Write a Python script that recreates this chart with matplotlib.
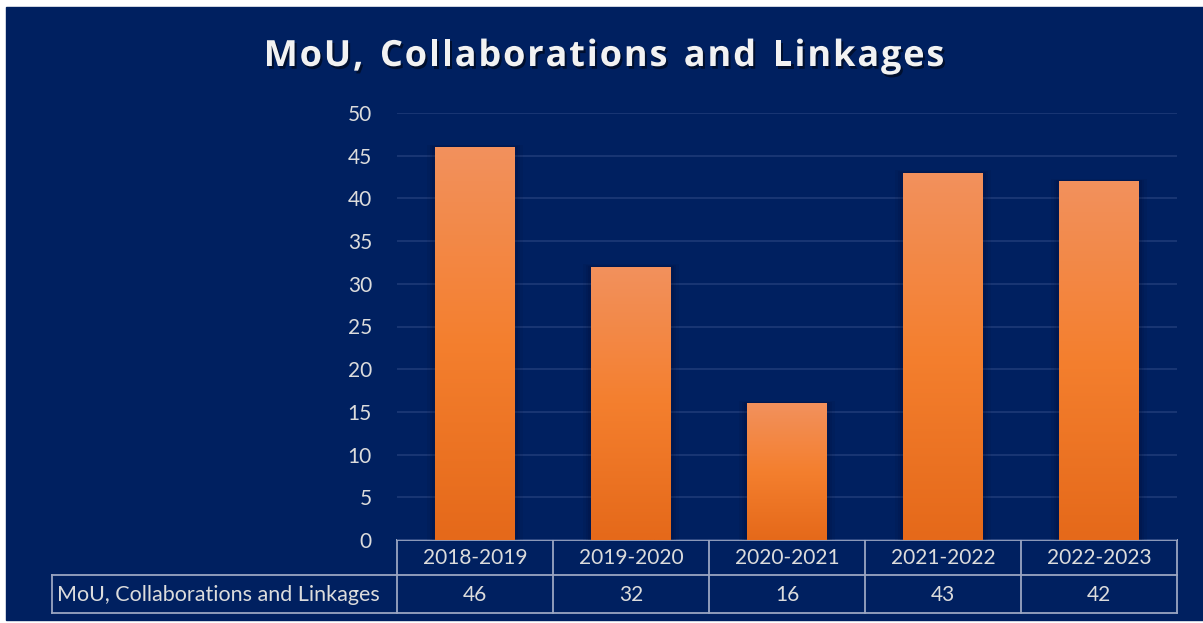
import numpy as np
import matplotlib.pyplot as plt
import matplotlib.patheffects as pe
from matplotlib.colors import LinearSegmentedColormap

# data
years = ["2018-2019", "2019-2020", "2020-2021", "2021-2022", "2022-2023"]
counts = [46, 32, 16, 43, 42]
series_name = "MoU, Collaborations and Linkages"
title = "MoU, Collaborations and Linkages"

W, H = 1203, 623
navy = "#002060"
txt = "#DCDCDC"
line_c = "#9AA6C2"
fs = 15

fig = plt.figure(figsize=(W / 100, H / 100), dpi=100, facecolor="white")

# background panel (white margin on the left and top)
bg = fig.add_axes([0, 0, 1, 1])
bg.set_xlim(0, W)
bg.set_ylim(H, 0)
bg.axis("off")
bg.add_patch(plt.Rectangle((6, 7), W - 6, 613, color=navy, zorder=0))

# main plot area in pixels
x0, x1 = 397, 1177
y_top, y_bot = 113, 540
ax = fig.add_axes([x0 / W, (H - y_bot) / H, (x1 - x0) / W, (y_bot - y_top) / H])
ax.set_facecolor("none")
ax.set_xlim(-0.5, len(years) - 0.5)
ax.set_ylim(0, 50)
ax.set_yticks(np.arange(0, 51, 5))
ax.set_xticks([])
for s in ax.spines.values():
    s.set_visible(False)
ax.tick_params(axis="y", length=0, pad=18, labelsize=fs, labelcolor=txt)
for lab in ax.get_yticklabels():
    lab.set_family("Lato")
ax.grid(axis="y", color="#1D3A78", lw=1.2)
ax.set_axisbelow(True)

cmap = LinearSegmentedColormap.from_list("bar", ["#E5691A", "#F47F2E", "#F2915D"])
grad = np.linspace(0, 1, 256).reshape(-1, 1)
bars = ax.bar(range(len(years)), counts, width=0.51, color="none", zorder=3)
for b in bars:
    bx, by, bw, bh = b.get_x(), b.get_y(), b.get_width(), b.get_height()
    # soft shadow
    for k, a in zip([0.05, 0.035, 0.02], [0.08, 0.1, 0.12]):
        ax.add_patch(plt.Rectangle((bx - k, by), bw + 2 * k, bh + k * 6, color="#000A2A",
                                   alpha=a, lw=0, zorder=2))
    im = ax.imshow(grad, cmap=cmap, aspect="auto", origin="lower",
                   extent=(bx, bx + bw, by, by + bh), zorder=3)
    im.set_clip_path(b)
ax.set_xlim(-0.5, len(years) - 0.5)
ax.set_ylim(0, 50)

# data table under the axis
col_w = (x1 - x0) / len(years)
edges = [x0 + col_w * i for i in range(len(years) + 1)]
r0, r1, r2 = 540, 575, 613
lbl_left = 52
kw = dict(color=line_c, lw=1.3, zorder=5)
bg.plot([x0, x1], [r0, r0], **kw)
bg.plot([lbl_left, x1], [r1, r1], **kw)
bg.plot([lbl_left, x1], [r2, r2], **kw)
bg.plot([lbl_left, lbl_left], [r1, r2], **kw)
for e in edges:
    bg.plot([e, e], [r0, r2], **kw)
for i, (yr, v) in enumerate(zip(years, counts)):
    cx = (edges[i] + edges[i + 1]) / 2
    bg.text(cx, (r0 + r1) / 2 + 1, yr, ha="center", va="center", fontsize=fs,
            color=txt, family="Lato")
    bg.text(cx, (r1 + r2) / 2 + 1, str(v), ha="center", va="center", fontsize=fs,
            color=txt, family="Lato")
bg.text(lbl_left + 5, (r1 + r2) / 2 + 1, series_name, ha="left", va="center",
        fontsize=15.5, color=txt, family="Lato")

# title with wide letter spacing: lay out the glyphs one by one
fig.canvas.draw()
rend = fig.canvas.get_renderer()
tkw = dict(fontsize=26, fontweight="bold", color="#F2F2F2", family="Open Sans")
shadow = [pe.withSimplePatchShadow(offset=(1.5, -2), shadow_rgbFace="black", alpha=0.5)]
probe = bg.text(0, 0, "x x", **tkw)
space_w = probe.get_window_extent(rend).width
probe.remove()
gap = 1.8
widths = []
for ch in title:
    if ch == " ":
        widths.append(space_w / 4)
    else:
        p = bg.text(0, 0, ch, **tkw)
        widths.append(p.get_window_extent(rend).width)
        p.remove()
total = sum(widths) + gap * (len(title) - 1)
cx = 604 - total / 2
for ch, w in zip(title, widths):
    if ch != " ":
        t = bg.text(cx, 57, ch, ha="left", va="center", **tkw)
        t.set_path_effects(shadow)
    cx += w + gap

fig.savefig("out.png", dpi=100, facecolor="white")
